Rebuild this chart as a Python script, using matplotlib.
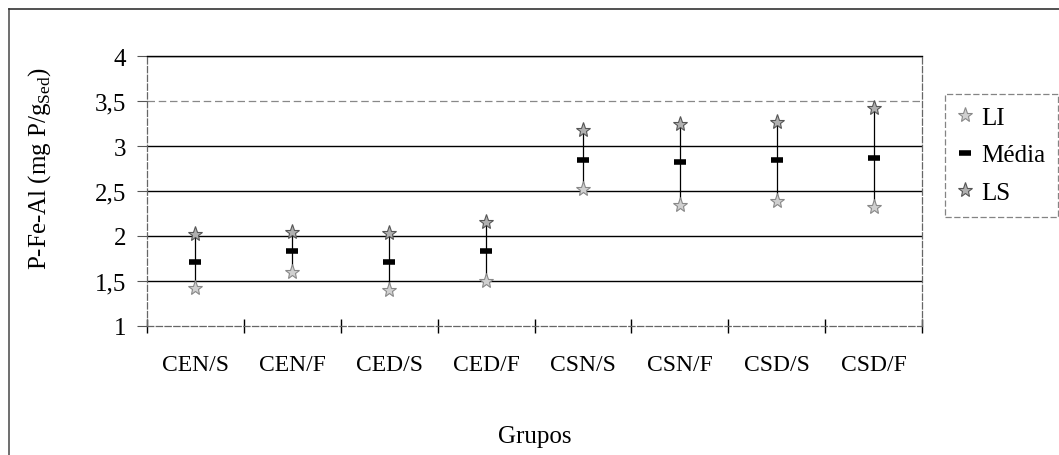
import matplotlib
matplotlib.use("Agg")
import matplotlib.pyplot as plt
from matplotlib.lines import Line2D
import numpy as np

plt.rcParams['font.family'] = ['Liberation Serif', 'DejaVu Serif']
plt.rcParams['mathtext.fontset'] = 'custom'
plt.rcParams['mathtext.rm'] = 'Liberation Serif'

groups = ['CEN/S', 'CEN/F', 'CED/S', 'CED/F', 'CSN/S', 'CSN/F', 'CSD/S', 'CSD/F']
li = [1.42, 1.60, 1.40, 1.50, 2.52, 2.34, 2.39, 2.32]
media = [1.71, 1.83, 1.71, 1.83, 2.84, 2.82, 2.84, 2.87]
ls = [2.02, 2.04, 2.03, 2.16, 3.18, 3.25, 3.27, 3.42]
yticks = [1, 1.5, 2, 2.5, 3, 3.5, 4]
ytick_labels = ['1', '1,5', '2', '2,5', '3', '3,5', '4']

W, H = 1059, 456
fig = plt.figure(figsize=(W / 100, H / 100), dpi=100)
ax = fig.add_axes([147 / W, 1 - 327 / H, (922 - 147) / W, (327 - 57) / H])

x = np.arange(len(groups))
ax.set_xlim(-0.5, len(groups) - 0.5)
ax.set_ylim(1, 4)

# gridlines
for yv in yticks[1:]:
    if yv == 3.5:
        ax.axhline(yv, color='#888888', lw=0.9, ls=(0, (6, 3)), zorder=1)
    else:
        ax.axhline(yv, color='black', lw=1.0, zorder=1)

ax.vlines(x, li, ls, color='black', lw=0.9, zorder=2)
ax.plot(x, li, ls='none', marker='*', ms=11, mfc='#d0d0d0', mec='#888888', mew=0.8, zorder=3, label='LI')
ax.plot(x, media, ls='none', marker='_', ms=8, mec='black', mew=4, zorder=4, label='Média')
ax.plot(x, ls, ls='none', marker='*', ms=11, mfc='#b0b0b0', mec='#555555', mew=0.8, zorder=3, label='LS')

ax.set_yticks(yticks)
ax.set_yticklabels(ytick_labels, fontsize=18)
ax.set_xticks(x)
ax.set_xticklabels(groups, fontsize=17)
ax.tick_params(axis='x', length=0, pad=20)
ax.set_xticks(np.arange(len(groups) + 1) - 0.5, minor=True)
ax.tick_params(axis='x', which='minor', direction='inout', length=10, width=1, color='black')
ax.tick_params(axis='y', direction='out', length=7, width=0.8, color='#555555', pad=8)

for s in ['left', 'right', 'bottom']:
    ax.spines[s].set_color('#666666')
    ax.spines[s].set_linewidth(0.9)
    ax.spines[s].set_linestyle((0, (5, 2)))
ax.spines['top'].set_color('black')
ax.spines['top'].set_linewidth(1.0)

ax.set_xlabel('Grupos', fontsize=18, labelpad=36)
fig.text(40 / W, 1 - 168 / H, r'P-Fe-Al (mg P/g$_{\mathrm{Sed}}$)', rotation=90,
         fontsize=18, ha='center', va='center')

leg = fig.legend(loc='upper left', bbox_to_anchor=(945 / W, 1 - 95 / H), fontsize=18,
                 frameon=True, fancybox=False, edgecolor='#666666', handlelength=0.6,
                 handletextpad=0.35, borderpad=0.5, labelspacing=0.6, borderaxespad=0)
leg.get_frame().set_linewidth(0.9)
leg.get_frame().set_linestyle((0, (5, 2)))

# outer chart border (top and left visible)
fig.add_artist(Line2D([9 / W, 9 / W], [0, 1 - 10 / H], transform=fig.transFigure,
                      color='#555555', lw=1.2))
fig.add_artist(Line2D([9 / W, 1], [1 - 10 / H, 1 - 10 / H], transform=fig.transFigure,
                      color='#333333', lw=1.2))

fig.savefig('out.png', dpi=100)
